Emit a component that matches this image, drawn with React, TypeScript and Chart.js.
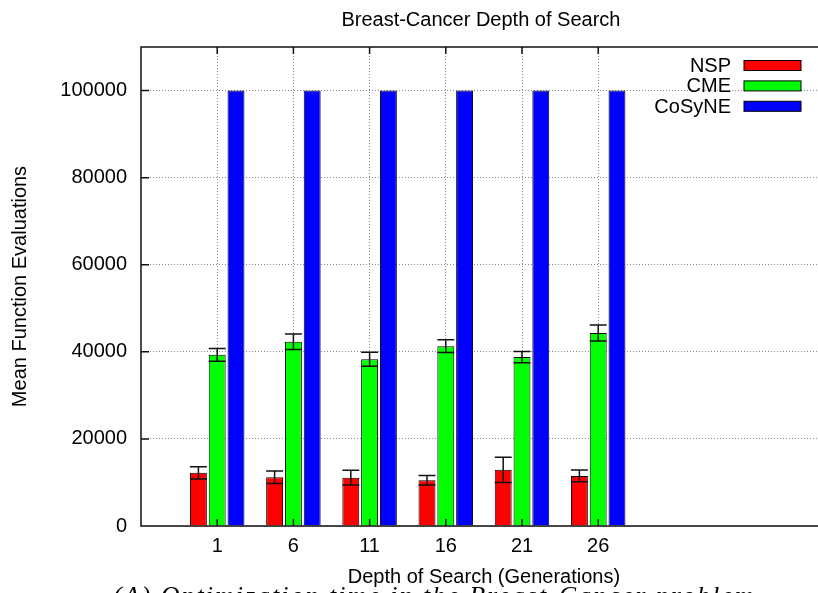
import React, { useEffect, useRef } from "react";
import { Chart, registerables } from "chart.js";

Chart.register(...registerables);

// ---- data ----
const depths = [1, 6, 11, 16, 21, 26];
const nspMean = [12200, 11200, 11100, 10500, 12900, 11500];
const nspErr = [1400, 1450, 1700, 1100, 2900, 1350];
const cmeMean = [39300, 42300, 38300, 41300, 38800, 44300];
const cmeErr = [1450, 1770, 1600, 1450, 1300, 1840];
const cosyneMean = [100000, 100000, 100000, 100000, 100000, 100000];
const cosyneErr = [0, 0, 0, 0, 0, 0];
const yTicks = [0, 20000, 40000, 60000, 80000, 100000];
const seriesNames = ["NSP", "CME", "CoSyNE"];
const seriesColors = ["#ff0000", "#00ff00", "#0000ff"];
const titleText = "Breast-Cancer Depth of Search";
const xTitle = "Depth of Search (Generations)";
const yTitle = "Mean Function Evaluations";
const captionText = "(A) Optimization time in the Breast-Cancer problem";

const X_MIN = -4;
const X_MAX = 46;
const X_PLOT_END = 41; // right end of the original plot box (off-screen)

const FONT = "'Liberation Sans', Arial, Helvetica, sans-serif";

const errorBarPlugin = {
  id: "errorBars",
  afterDatasetsDraw(chart: any) {
    const ctx = chart.ctx;
    const yScale = chart.scales.y;
    chart.data.datasets.forEach((ds: any, di: number) => {
      const meta = chart.getDatasetMeta(di);
      const errs: number[] = ds.errors || [];
      const means: number[] = ds.means || [];
      meta.data.forEach((el: any, i: number) => {
        const e = errs[i];
        if (!e) return;
        const yT = yScale.getPixelForValue(means[i] + e);
        const yB = yScale.getPixelForValue(means[i] - e);
        const half = el.width / 2;
        ctx.save();
        ctx.strokeStyle = "#111";
        ctx.lineWidth = 1.5;
        ctx.beginPath();
        ctx.moveTo(el.x, yT);
        ctx.lineTo(el.x, yB);
        ctx.moveTo(el.x - half, yT);
        ctx.lineTo(el.x + half, yT);
        ctx.moveTo(el.x - half, yB);
        ctx.lineTo(el.x + half, yB);
        ctx.stroke();
        ctx.restore();
      });
    });
  },
};

const framePlugin = {
  id: "frame",
  afterDraw(chart: any) {
    const ctx = chart.ctx;
    const a = chart.chartArea;
    const xs = chart.scales.x;
    const ys = chart.scales.y;
    ctx.save();
    ctx.strokeStyle = "#111";
    ctx.lineWidth = 1.5;
    ctx.beginPath();
    ctx.moveTo(a.right, a.top);
    ctx.lineTo(a.left, a.top);
    ctx.lineTo(a.left, a.bottom);
    ctx.lineTo(a.right, a.bottom);
    yTicks.forEach((v) => {
      const y = ys.getPixelForValue(v);
      ctx.moveTo(a.left, y);
      ctx.lineTo(a.left + 8, y);
    });
    depths.forEach((v) => {
      const x = xs.getPixelForValue(v);
      ctx.moveTo(x, a.top);
      ctx.lineTo(x, a.top + 7);
      ctx.moveTo(x, a.bottom);
      ctx.lineTo(x, a.bottom - 7);
    });
    ctx.stroke();

    const cx = (a.left + xs.getPixelForValue(X_PLOT_END)) / 2;
    ctx.fillStyle = "#000";
    ctx.font = `20px ${FONT}`;
    ctx.textAlign = "center";
    ctx.textBaseline = "middle";
    ctx.fillText(titleText, cx - 3, 12);
    ctx.fillText(xTitle, cx, a.bottom + 51);
    ctx.restore();
  },
};

const legendPlugin = {
  id: "customLegend",
  afterDraw(chart: any) {
    const ctx = chart.ctx;
    const a = chart.chartArea;
    ctx.save();
    ctx.font = `20px ${FONT}`;
    ctx.textAlign = "right";
    ctx.textBaseline = "middle";
    chart.data.datasets.forEach((ds: any, i: number) => {
      const cy = a.top + 18.5 + i * 20.4;
      ctx.fillStyle = "#000";
      ctx.fillText(ds.label, a.left + 590, cy + 1);
      ctx.fillStyle = ds.backgroundColor;
      ctx.fillRect(a.left + 603, cy - 5, 57, 10);
      ctx.strokeStyle = "#000";
      ctx.lineWidth = 1;
      ctx.strokeRect(a.left + 603, cy - 5, 57, 10);
    });
    ctx.restore();
  },
};

export default function App() {
  const ref = useRef<HTMLCanvasElement | null>(null);

  useEffect(() => {
    document.documentElement.style.overflow = "hidden";
    document.body.style.overflow = "hidden";
    if (!ref.current) return;
    const means = [nspMean, cmeMean, cosyneMean];
    const errs = [nspErr, cmeErr, cosyneErr];
    const chart = new Chart(ref.current, {
      type: "bar",
      data: {
        datasets: seriesNames.map((name, si) => ({
          label: name,
          data: depths.map((d, i) => ({ x: d, y: means[si][i] })),
          means: means[si],
          errors: errs[si],
          backgroundColor: seriesColors[si],
          borderColor: "#000",
          borderWidth: 1,
          categoryPercentage: 0.74,
          barPercentage: 0.9,
        })) as any,
      },
      options: {
        animation: false,
        responsive: false,
        maintainAspectRatio: false,
        events: [],
        layout: { padding: { left: 0, right: 49, top: 39, bottom: 0 } },
        plugins: {
          legend: { display: false },
          tooltip: { enabled: false },
          title: { display: false },
        },
        scales: {
          x: {
            type: "linear",
            min: X_MIN,
            max: X_MAX,
            offset: false,
            afterBuildTicks: (s: any) => {
              s.ticks = depths.map((v) => ({ value: v }));
            },
            afterFit: (s: any) => {
              s.height = 67;
            },
            grid: { color: "#8a8a8a", lineWidth: 1, drawTicks: false, offset: false },
            border: { display: false, dash: [1, 2] },
            ticks: {
              color: "#000",
              padding: 8,
              font: { family: FONT, size: 20 },
              maxRotation: 0,
              autoSkip: false,
              callback: (v: any) => String(v),
            },
            title: { display: false },
          },
          y: {
            min: 0,
            max: 110000,
            afterBuildTicks: (s: any) => {
              s.ticks = yTicks.map((v) => ({ value: v }));
            },
            afterFit: (s: any) => {
              s.width = 133;
            },
            grid: { color: "#8a8a8a", lineWidth: 1, drawTicks: false },
            border: { display: false, dash: [1, 2] },
            ticks: {
              color: "#000",
              padding: 14,
              font: { family: FONT, size: 20 },
              callback: (v: any) => String(v),
            },
            title: {
              display: true,
              text: yTitle,
              color: "#000",
              font: { family: FONT, size: 20 },
              padding: { top: 0, bottom: 0 },
            },
          },
        },
      },
      plugins: [errorBarPlugin, framePlugin, legendPlugin],
    });
    return () => chart.destroy();
  }, []);

  return (
    <div style={{ position: "fixed", left: 8, top: 8, width: 810, height: 585, overflow: "hidden" }}>
      <canvas ref={ref} width={944} height={585} style={{ display: "block", width: 944, height: 585 }} />
      <div
        style={{
          position: "absolute",
          left: 105,
          top: 575,
          fontFamily: "'Liberation Serif', 'DejaVu Serif', serif",
          fontStyle: "italic",
          fontSize: 26,
          lineHeight: "26px",
          letterSpacing: 2,
          whiteSpace: "nowrap",
          color: "#000",
        }}
      >
        {captionText}
      </div>
    </div>
  );
}
